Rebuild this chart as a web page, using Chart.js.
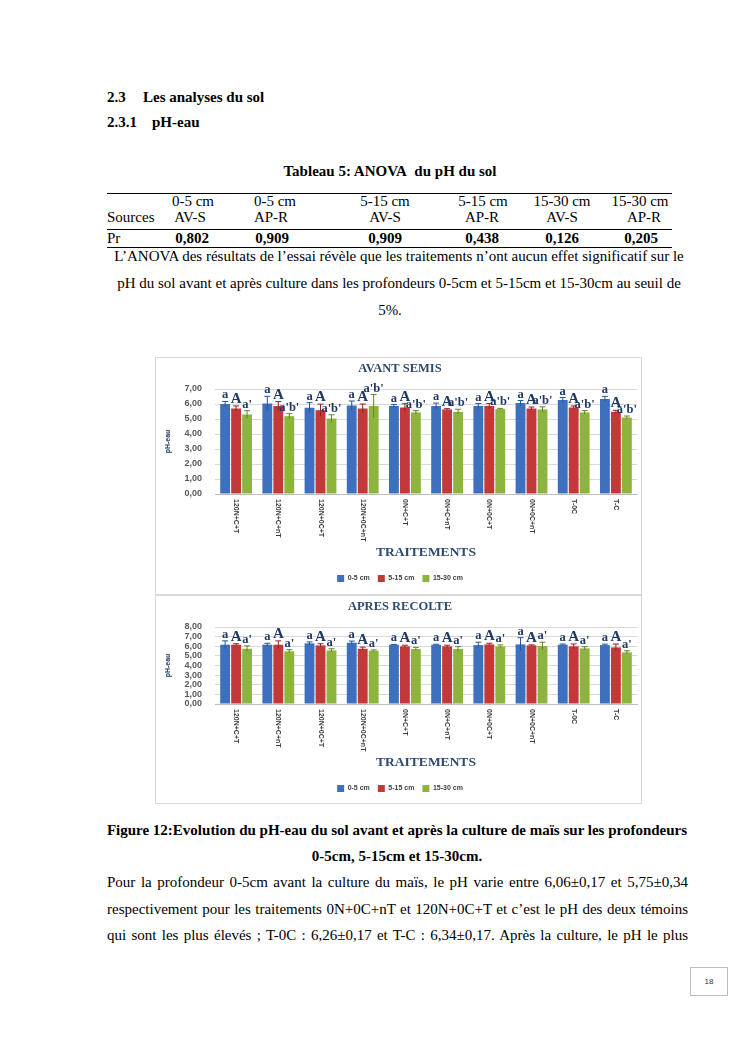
<!DOCTYPE html>
<html lang="fr">
<head>
<meta charset="UTF-8">
<title>pH-eau du sol</title>
<script src="https://cdn.jsdelivr.net/npm/chart.js"></script>
<style>
  body { margin: 0; background: #fff; }
  .page { position: relative; width: 745px; height: 1053px; overflow: hidden; background: #fff;
          font-family: "Liberation Serif", "Times New Roman", serif; color: #000; }
  .t { position: absolute; white-space: nowrap; font-size: 15px; line-height: 16px; }
  .b { font-weight: bold; }
  .c { transform: translateX(-50%); }
  .rule { position: absolute; left: 107px; width: 565px; border-top: 1px solid #000; }
  .just { position: absolute; left: 107px; width: 581px; font-size: 15px; line-height: 16px;
          text-align: justify; text-align-last: justify; white-space: normal; }
  .box { position: absolute; left: 155px; width: 485px; border: 1px solid #d9d9d9; }
  .box canvas { display: block; }
  .pgnum { position: absolute; left: 690px; top: 967px; width: 36px; height: 27px; border: 1px solid #bdbdbd;
           font-family: "Liberation Sans", sans-serif; font-size: 8px; line-height: 27px; text-align: center; color: #333; }
</style>
</head>
<body>
<div class="page">
  <div class="t b" style="left:107px; top:89px;">2.3</div>
  <div class="t b" style="left:143px; top:89px;">Les analyses du sol</div>
  <div class="t b" style="left:107px; top:114px;">2.3.1</div>
  <div class="t b" style="left:152px; top:114px;">pH-eau</div>

  <div class="t b c" style="left:390px; top:163px;">Tableau 5: ANOVA&nbsp; du pH du sol</div>

  <div class="rule" style="top:193px;"></div>
  <div class="t c" style="left:193px; top:193px;">0-5 cm</div>
  <div class="t c" style="left:275px; top:193px;">0-5 cm</div>
  <div class="t c" style="left:385px; top:193px;">5-15 cm</div>
  <div class="t c" style="left:483px; top:193px;">5-15 cm</div>
  <div class="t c" style="left:562px; top:193px;">15-30 cm</div>
  <div class="t c" style="left:640px; top:193px;">15-30 cm</div>
  <div class="t" style="left:107px; top:209px;">Sources</div>
  <div class="t c" style="left:190px; top:209px;">AV-S</div>
  <div class="t c" style="left:271px; top:209px;">AP-R</div>
  <div class="t c" style="left:385px; top:209px;">AV-S</div>
  <div class="t c" style="left:482px; top:209px;">AP-R</div>
  <div class="t c" style="left:562px; top:209px;">AV-S</div>
  <div class="t c" style="left:644px; top:209px;">AP-R</div>
  <div class="rule" style="top:229px;"></div>
  <div class="t" style="left:107px; top:230px;">Pr</div>
  <div class="t b c" style="left:192px; top:230px;">0,802</div>
  <div class="t b c" style="left:272px; top:230px;">0,909</div>
  <div class="t b c" style="left:385px; top:230px;">0,909</div>
  <div class="t b c" style="left:482px; top:230px;">0,438</div>
  <div class="t b c" style="left:562px; top:230px;">0,126</div>
  <div class="t b c" style="left:641px; top:230px;">0,205</div>
  <div class="rule" style="top:247px;"></div>

  <div class="t c" style="left:399px; top:248px;">L’ANOVA des résultats de l’essai révèle que les traitements n’ont aucun effet significatif sur le</div>
  <div class="t c" style="left:399px; top:275px;">pH du sol avant et après culture dans les profondeurs 0-5cm et 5-15cm et 15-30cm au seuil de</div>
  <div class="t c" style="left:390px; top:302px;">5%.</div>

  <div class="box" style="top:357px; height:236px;"><canvas id="chartAvant" width="485" height="236"></canvas></div>
  <div class="box" style="top:595px; height:207px;"><canvas id="chartApres" width="485" height="207"></canvas></div>

  <div class="t b c" style="left:397px; top:822px;">Figure 12:Evolution du pH-eau du sol avant et après la culture de maïs sur les profondeurs</div>
  <div class="t b c" style="left:397px; top:848px;">0-5cm, 5-15cm et 15-30cm.</div>

  <div class="just" style="top:874px;">Pour la profondeur 0-5cm avant la culture du maïs, le pH varie entre 6,06±0,17 et 5,75±0,34</div>
  <div class="just" style="top:901px;">respectivement pour les traitements 0N+0C+nT et 120N+0C+T et c’est le pH des deux témoins</div>
  <div class="just" style="top:927px;">qui sont les plus élevés ; T-0C : 6,26±0,17 et T-C : 6,34±0,17. Après la culture, le pH le plus</div>

  <div class="pgnum">18</div>
</div>

<script>
// traitements
const traitements = ['120N+C+T', '120N+C+nT', '120N+0C+T', '120N+0C+nT', '0N+C+T',
                     '0N+C+nT', '0N+0C+T', '0N+0C+nT', 'T-0C', 'T-C'];
const profondeurs = ['0-5 cm', '5-15 cm', '15-30 cm'];

// avant semis
const avant05   = [6.00, 6.04, 5.75, 5.90, 5.86, 5.86, 5.86, 6.06, 6.26, 6.34];
const avant515  = [5.70, 5.86, 5.59, 5.70, 5.77, 5.64, 5.86, 5.70, 5.77, 5.48];
const avant1530 = [5.30, 5.19, 5.03, 5.86, 5.44, 5.48, 5.66, 5.64, 5.44, 5.10];
const errAvant05   = [0.17, 0.47, 0.34, 0.30, 0.10, 0.20, 0.17, 0.17, 0.17, 0.17];
const errAvant515  = [0.17, 0.30, 0.40, 0.30, 0.25, 0.05, 0.17, 0.10, 0.10, 0.10];
const errAvant1530 = [0.25, 0.17, 0.25, 0.77, 0.12, 0.17, 0.05, 0.17, 0.12, 0.10];
const lettresAvant05   = ['a', 'a', 'a', 'a', 'a', 'a', 'a', 'a', 'a', 'a'];
const lettresAvant515  = ['A', 'A', 'A', 'A', 'A', 'A', 'A', 'A', 'A', 'A'];
const lettresAvant1530 = ["a'", "a'b'", "a'b'", "a'b'", "a'b'", "a'b'", "a'b'", "a'b'", "a'b'", "a'b'"];

// apres recolte
const apres05   = [6.16, 6.16, 6.30, 6.37, 6.16, 6.16, 6.12, 6.19, 6.16, 6.12];
const apres515  = [6.16, 6.16, 6.09, 5.74, 5.99, 5.99, 6.19, 6.09, 5.99, 5.88];
const apres1530 = [5.74, 5.47, 5.57, 5.54, 5.71, 5.71, 5.99, 6.02, 5.78, 5.36];
const errApres05   = [0.40, 0.15, 0.15, 0.17, 0.03, 0.05, 0.30, 0.70, 0.07, 0.10];
const errApres515  = [0.10, 0.40, 0.17, 0.17, 0.12, 0.12, 0.12, 0.05, 0.25, 0.35];
const errApres1530 = [0.30, 0.17, 0.17, 0.08, 0.17, 0.25, 0.15, 0.40, 0.17, 0.17];
const lettresApres05   = ['a', 'a', 'a', 'a', 'a', 'a', 'a', 'a', 'a', 'a'];
const lettresApres515  = ['A', 'A', 'A', 'A', 'A', 'A', 'A', 'A', 'A', 'A'];
const lettresApres1530 = ["a'", "a'", "a'", "a'", "a'", "a'", "a'", "a'", "a'", "a'"];

const couleurs = ['#3d70bf', '#c3393a', '#8db53e'];
const couleursErr = ['#2a548f', '#8f2426', '#64822a'];
const navy = '#1f3864';

const fmt = v => v.toFixed(2).replace('.', ',');

// error bars, letters and clockwise x labels
const extras = {
    id: 'extras',
    afterDatasetsDraw(chart, args, opts) {
        const ctx = chart.ctx;
        const y = chart.scales.y;
        ctx.save();
        chart.data.datasets.forEach((ds, di) => {
            chart.getDatasetMeta(di).data.forEach((bar, i) => {
                const v = ds.data[i];
                const e = opts.errors[di][i];
                const yTop = y.getPixelForValue(v + e);
                const yBot = y.getPixelForValue(v - e);
                ctx.strokeStyle = couleursErr[di];
                ctx.lineWidth = 1;
                ctx.beginPath();
                ctx.moveTo(bar.x, yBot);
                ctx.lineTo(bar.x, yTop);
                ctx.moveTo(bar.x - 3, yTop);
                ctx.lineTo(bar.x + 3, yTop);
                ctx.stroke();
                ctx.fillStyle = navy;
                ctx.font = 'bold ' + (di === 1 ? 15 : 12.5) + 'px "Liberation Serif"';
                ctx.textAlign = 'center';
                ctx.textBaseline = 'alphabetic';
                ctx.fillText(opts.letters[di][i], bar.x, yTop - 3);
            });
        });
        const x = chart.scales.x;
        ctx.fillStyle = '#3a3a3a';
        ctx.font = 'bold 7px "Liberation Sans"';
        ctx.textAlign = 'left';
        ctx.textBaseline = 'middle';
        chart.data.labels.forEach((lab, i) => {
            ctx.save();
            ctx.translate(x.getPixelForTick(i), x.top + 5);
            ctx.rotate(Math.PI / 2);
            ctx.fillText(lab, 0, 0);
            ctx.restore();
        });
        ctx.restore();
    }
};

function makeChart(id, titre, yMax, series, errors, letters, xHeight, padBottom) {
    return new Chart(document.getElementById(id), {
        type: 'bar',
        data: {
            labels: traitements,
            datasets: series.map((s, i) => ({
                label: profondeurs[i],
                data: s,
                backgroundColor: couleurs[i],
                categoryPercentage: 0.78,
                barPercentage: 0.9
            }))
        },
        options: {
            responsive: false,
            animation: false,
            layout: { padding: { left: 7, right: 4, top: 0, bottom: padBottom } },
            plugins: {
                title: {
                    display: true, text: titre, color: '#2e4a70',
                    font: { family: 'Liberation Serif', size: 12.5, weight: 'bold' },
                    padding: { top: 3, bottom: 13 }
                },
                legend: {
                    position: 'bottom',
                    labels: { boxWidth: 7, boxHeight: 7, padding: 8, color: '#404040',
                              font: { family: 'Liberation Sans', size: 7, weight: 'bold' } }
                },
                tooltip: { enabled: false },
                extras: { errors: errors, letters: letters }
            },
            scales: {
                x: {
                    grid: { display: false, drawTicks: false },
                    border: { color: '#bfbfbf' },
                    ticks: { color: 'rgba(0,0,0,0)', minRotation: 90, maxRotation: 90, font: { size: 7 } },
                    title: { display: true, text: 'TRAITEMENTS', color: '#2e4a70',
                             font: { family: 'Liberation Serif', size: 13.5, weight: 'bold' },
                             padding: { top: 0, bottom: 6 } },
                    afterFit(s) { s.height = xHeight; }
                },
                y: {
                    min: 0, max: yMax,
                    ticks: { stepSize: 1, autoSkip: false, callback: fmt, padding: 13, color: '#595959',
                             font: { family: 'Liberation Sans', size: 9, weight: 'bold' } },
                    grid: { color: '#d9d9d9', drawTicks: false },
                    border: { display: false },
                    title: { display: true, text: 'pH-eau', color: navy,
                             font: { family: 'Liberation Sans', size: 7, weight: 'bold' },
                             padding: { top: 1, bottom: 0 } },
                    afterFit(s) { s.width = 52; }
                }
            }
        },
        plugins: [extras]
    });
}

makeChart('chartAvant', 'AVANT SEMIS', 7,
    [avant05, avant515, avant1530],
    [errAvant05, errAvant515, errAvant1530],
    [lettresAvant05, lettresAvant515, lettresAvant1530], 73, 2);

makeChart('chartApres', 'APRES RECOLTE', 8,
    [apres05, apres515, apres1530],
    [errApres05, errApres515, errApres1530],
    [lettresApres05, lettresApres515, lettresApres1530], 73, 1);
</script>
</body>
</html>
